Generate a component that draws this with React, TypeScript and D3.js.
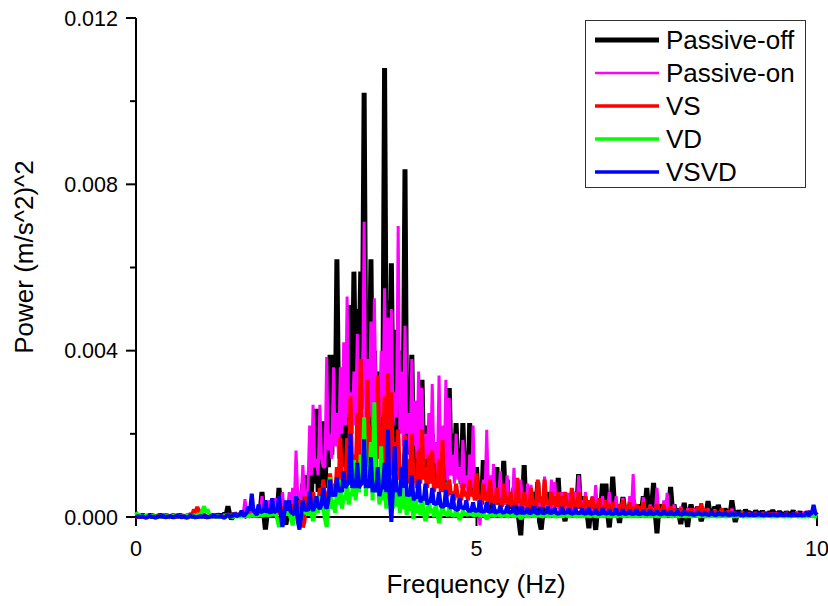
import React from 'react';
import * as d3 from 'd3';

// Spectrum samples: main arrays at every FREQ_STEP Hz (0..10 Hz), *_MID arrays at the half steps
// between them. Values are in units of 1e-4 (m/s^2)^2.
const FREQ_STEP = 0.05;
const UNIT = 1e-4;

const PASSIVE_OFF = [
  0.4, 0.3, 0.5, 0.2, 0.4, 0.3, 0.2, 0.5, 0.3, 0.4,
  0.2, 0.4, 0.3, 0.5, 0.2, 0.3, 0.4, 0.2, 0.5, 0.3,
  0.4, 0.2, 0.5, 0.3, 0.6, 0.4, 0.8, 2.6, -0.5, 0.9,
  0.6, 1.2, 0.3, 1.4, 0.8, 1.8, 1.0, 6.0, -3.0, 2.2,
  1.5, 3.2, 7.0, 2.4, -1.8, 3.0, 4.5, 5.0, 3.5, 8.0,
  10, 12, 16, 26, 10, 23, 18, 39, 39, 62,
  35, 30, 25, 51, 59, 50, 59, 102, 45, 62,
  40, 35, 30, 108, 52, 61, 45, 40, 40, 83.6,
  30, 39, 25, 20, 33, 22, 15, 20, 15, 18,
  14, 20, 31, 20, 22.6, 15, 22.6, 12, 22.6, 10,
  12, 6, 13.7, 8, 5, 7, 12, 6, 13.5, 9,
  4, 7, 3, -4.4, 12.5, 5, 3, 6, 8.4, -3,
  4, 6, 3, 5, 9.4, 4, -1, 5, 4, 6,
  10.3, 5, 3, -2.7, 4, -3.1, 3, 8, 8, -2.5,
  9.7, 3, -1.4, 4.8, 2, 3, 4, 2, 3, 5,
  7, 3, 8.2, -3.9, 3, 2.5, 4, 7.2, 3, 2,
  -1.7, 3.4, -2.4, 3, 2, 2.5, -1, 2, 3.8, 1.5,
  2.5, 2.9, 1.5, 2, 1.2, 4, -1.2, 1.5, 1.0, 1.7,
  1.2, 0.8, 1.5, 1.0, 1.4, 0.8, 1.2, 1.6, 0.9, 1.3,
  0.7, 1.2, 0.9, 1.5, 1.0, 1.2, 0.8, 1.0, 1.3, 0.8, 0.6,
];
const PASSIVE_OFF_MID = [
  0.1, 0.2, 0.0, 0.1, 0.2, 0.0, 0.1, 0.2, 0.1, 0.0,
  0.1, 0.0, 0.2, 0.1, 0.0, 0.1, 0.2, 0.0, 0.1, 0.2,
  0.0, 0.1, 0.2, 0.1, 0.2, 0.3, 0.5, 0.6, 0.2, 0.3,
  0.2, 0.4, 0.1, 0.5, 0.3, 0.6, 1.5, 1.0, 0.5, 0.8,
  0.6, 1.5, 2.0, -0.5, 0.5, 1.0, 2.0, 1.5, 2.5, 3.0,
  4, 5, 8, 6, 8, 7, 12, 15, 20, 25,
  15, 12, 20, 25, 30, 35, 40, 30, 28, 20,
  18, 15, 25, 30, 25, 20, 18, 22, 25, 15,
  18, 12, 10, 15, 12, 8, 10, 9, 8, 10,
  8, 10, 12, 10, 12, 8, 10, 7, 6, 5,
  4, 3, 5, 3, 2, 4, 3, 5, 3, 2,
  2, 1, -1, 3, 2, 1, 2, 3, -1, 1,
  2, 1.5, 2, 3, 2, 1, 2, 1.5, 2, 3,
  2, 1.5, 1, 1.5, 1, 1.5, 2, 3, 1, 2,
  3, 1, 1.5, 2, 1, 1.5, 2, 1, 1.5, 2,
  2, 3, 1, 1.5, 1, 1.5, 2, 2, 1, 0.5,
  1, 0.5, 1, 1.2, 0.8, 1, 0.5, 1, 1.2, 0.8,
  1, 1.2, 0.8, 1, 0.6, 1.2, 0.5, 0.8, 0.6, 0.9,
  0.7, 0.5, 0.8, 0.6, 0.7, 0.5, 0.8, 0.7, 0.6, 0.7,
  0.5, 0.6, 0.7, 0.6, 0.7, 0.5, 0.6, 0.7, 0.5, 0.4,
];

const PASSIVE_ON = [
  0.2, 0.3, 0.1, 0.2, 0.3, 0.2, 0.1, 0.3, 0.2, 0.2,
  0.3, 0.1, 0.2, 0.3, 0.2, 0.1, 0.2, 0.3, 0.2, 0.4,
  0.3, 0.2, 0.4, 0.3, 0.5, 0.3, 0.6, 0.8, 0.4, 1.0,
  0.5, 1.5, 4.3, 1.0, 2.0, 1.2, 3.0, 5.0, 1.5, 4.0,
  2.5, 4.5, 3.5, 6.0, 2.0, 6, 7, 16, 6, 12.5,
  5, 22, 27, 14, 27, 12, 38.5, 20, 36, 25,
  36, 42, 53, 30, 35, 44, 30, 71, 38, 47,
  52.6, 30, 40, 55, 48, 50, 30, 70, 35, 46,
  25, 38, 28, 35, 31, 20, 25, 32, 18, 34,
  22, 33, 28.6, 15, 20, 12, 18.5, 10, 15, 22,
  8, -2, 9, 21, 10, 12.7, 7, 11, 6, 10,
  5, 11.8, 6, 9, 4, 8, 7.7, 3, 6, 5,
  9.7, 4, 9, 8.4, 3, 6, 4, 5.8, 3, 6,
  10, 4, 6, 3, 5, 7.7, 3, 5, 4, 6,
  3, 5, 2, 4.6, 2, 5, 10.3, 3, 2, 4.8,
  2, 3, 2, 7, 2, 4, 5.8, 2, 3, 1.5,
  2.5, 1.5, 2, 1, 2, 1.5, 2.4, 1, 2, 1.2,
  1.8, 1, 1.5, 0.8, 1.2, 2, 1, 0.8, 1.2, 0.6,
  1.0, 0.7, 1.1, 0.6, 0.9, 1.2, 0.7, 1.0, 0.5, 0.9,
  0.7, 1.1, 0.6, 0.9, 1.3, 0.7, 1.0, 1.5, 0.8, 0.6, 0.5,
];
const PASSIVE_ON_MID = [
  0.1, 0.0, 0.1, 0.1, 0.0, 0.1, 0.0, 0.1, 0.1, 0.0,
  0.1, 0.0, 0.1, 0.0, 0.1, 0.0, 0.1, 0.1, 0.0, 0.2,
  0.1, 0.0, 0.2, 0.1, 0.2, 0.1, 0.3, 0.2, 0.1, 0.3,
  0.2, 0.8, 1.0, 0.4, 0.8, 0.6, 1.2, 1.5, 0.8, 1.5,
  1.0, 1.5, 1.2, 2.0, 1.5, 2, 3, 5, 4, 5,
  7, 10, 12, 10, 14, 12, 16, 14, 17, 14,
  20, 22, 24, 20, 22, 18, 26, 22, 24, 20,
  26, 22, 24, 26, 20, 22, 24, 20, 17, 20,
  14, 17, 14, 16, 12, 14, 12, 13, 10, 12,
  11, 9, 10, 8, 9, 7, 8, 6, 7, 5,
  4.5, 3.5, 4.5, 5.5, 4.5, 3.5, 4.5, 3.5, 3, 3.5,
  2.5, 3.5, 2.5, 2.5, 2, 2.5, 3, 2, 2.5, 2.5,
  2, 1.5, 2, 2.5, 1.5, 2, 1.5, 2, 1, 2,
  2.5, 1.5, 2, 1, 1.5, 2, 1, 2, 1.5, 1,
  1.5, 1, 1.2, 1.5, 1, 1.5, 2, 1, 1.2, 1,
  1, 1.5, 1, 1.2, 1, 1.5, 1, 0.8, 1, 0.8,
  0.8, 0.6, 1, 0.5, 0.8, 0.6, 0.8, 0.5, 0.7, 0.6,
  0.7, 0.5, 0.6, 0.4, 0.6, 0.7, 0.5, 0.4, 0.6, 0.3,
  0.5, 0.4, 0.5, 0.3, 0.5, 0.6, 0.4, 0.5, 0.3, 0.4,
  0.4, 0.5, 0.3, 0.4, 0.6, 0.4, 0.5, 0.6, 0.4, 0.3,
];

const VS = [
  0.1, 0.2, 0.1, 0.3, 0.2, 0.1, 0.2, 0.3, 0.1, 0.2,
  0.3, 0.2, 0.1, 0.2, 0.3, 0.4, 0.8, 1.8, 2.4, 1.2,
  0.4, 0.3, 0.2, 0.4, 0.3, 0.2, 0.5, 0.3, 0.6, 0.4,
  0.5, 0.8, 0.4, 1.0, 0.6, 1.2, 0.8, 1.5, 1.0, 1.6,
  1.2, 2.0, 1.5, 2.5, 1.0, 2, 3, 2, 4, -2.5,
  5, 3, 6, 4, 7, 9, 6, 10.5, 8, 12,
  19, 10, 19, 29, 15, 25, 38, 20, 33, 22,
  26, 34, 22, 29, 34.6, 30, 18, 21, 12, 19.7,
  14, 20, 10, 16, 21, 12, 15, 16, 9, 14,
  18.5, 8, 9, 6, 8, 5, 8, 6, 9, 6.5,
  10.5, 5, 8, 6, 9, 5, 7, 4, 8, 5,
  6, 3, 9.4, 4, 6, 3, 7, 4, 9, 5,
  9, 4, 6, 5, 6, 5, 6, 3, 7, 4,
  6, 3, 5, 4, 4.8, 3, 4.5, 2.5, 4, 3,
  3.5, 2, 3, 4, 2.5, 3.5, 2, 3, 2.5, 3.5,
  2, 2.5, 1.5, 3, 2, 3, 1.5, 2.5, 2, 1.5,
  2, 1.2, 1.5, 2, 1.2, 2.5, 3.3, 2, 1.5, 1,
  1.5, 1.2, 2, 1.0, 1.5, 0.8, 1.0, 0.7, 1.1, 0.8,
  1.0, 0.6, 0.9, 0.7, 1.0, 0.6, 0.8, 0.5, 0.9, 0.7,
  0.6, 0.8, 0.5, 0.7, 0.9, 0.6, 0.7, 0.5, 0.8, 0.6, 0.4,
];
const VS_MID = [
  0.0, 0.1, 0.0, 0.1, 0.1, 0.0, 0.1, 0.1, 0.0, 0.1,
  0.1, 0.0, 0.1, 0.1, 0.1, 0.2, 0.5, 1.2, 1.5, 0.6,
  0.2, 0.1, 0.1, 0.2, 0.1, 0.1, 0.2, 0.1, 0.3, 0.2,
  0.2, 0.3, 0.2, 0.4, 0.3, 0.5, 0.4, 0.6, 0.5, 0.7,
  0.6, 0.8, 0.7, 1.0, 0.5, 1, 1.5, 1, 2, -1,
  2, 2.5, 3.5, 3, 4, 5, 4, 6, 5, 7,
  9, 8, 10, 11, 10, 13, 15, 12, 13, 11,
  12, 14, 12, 13, 12, 10, 11, 9, 10, 10,
  8, 9, 7, 8, 9, 7, 8, 6, 7, 6,
  6, 5, 5.5, 4, 5, 4, 5, 4, 5, 4,
  4.5, 3.5, 4, 3, 3.5, 3, 3.5, 2.5, 3.5, 3,
  2.5, 3, 3.5, 2.5, 3, 2, 3, 2.5, 3.5, 2.5,
  3, 2.5, 3, 2.5, 2.5, 2, 3, 2, 2.5, 2,
  2.5, 2, 2.5, 2, 2, 1.5, 2, 1.5, 2, 1.5,
  1.5, 1.2, 1.5, 1.8, 1.2, 1.5, 1, 1.2, 1.5, 1.2,
  1, 1.2, 0.9, 1.2, 1, 1.2, 0.8, 1.1, 1, 0.8,
  0.9, 0.6, 0.8, 0.9, 0.6, 1.1, 1.3, 0.9, 0.7, 0.6,
  0.6, 0.5, 0.7, 0.4, 0.6, 0.4, 0.5, 0.3, 0.5, 0.4,
  0.4, 0.3, 0.4, 0.3, 0.5, 0.3, 0.4, 0.2, 0.4, 0.3,
  0.3, 0.4, 0.2, 0.3, 0.4, 0.3, 0.3, 0.2, 0.4, 0.2,
];

const VD = [
  1.2, 0.5, 0.3, 0.4, 0.2, 0.3, 0.1, 0.2, 0.3, 0.2,
  0.1, 0.3, 0.2, 0.1, 0.2, 0.3, 0.2, 0.4, 0.5, 0.8,
  2.6, 1.8, 0.4, 0.2, 0.3, 0.1, 0.2, 0.3, 0.1, 0.2,
  0.3, 0.2, 0.5, 0.3, 0.6, 0.4, 0.8, 0.5, 1.0, 0.6,
  1.2, 0.8, -2.4, 1.0, 1.5, 1, -2, 2, -1.5, 3,
  1, 4, -1, 3, 5, 2, -2.4, 9.6, 4, 6,
  9, 5, 8, 6, 13.7, 10, 15, 24, 12, 18,
  27.6, 10, 17, 8, 12, 9, 12, 6, 8, 5,
  7, 4, 6, 3, 5, -1, 4, 2, 3, -1.5,
  3, 1, 2.5, 0.5, 2, -0.7, 1.5, 1, 2, 0.5,
  1.5, 0.5, 1.2, -0.5, 1, 0.4, 1.2, 0.3, 0.8, 0.2,
  0.6, 0.3, 0.8, -0.4, 0.6, 0.2, 0.5, 0.3, 0.7, 0.2,
  0.5, 0.3, 0.6, 0.2, 0.4, 0.3, 0.6, 0.2, 0.5, 0.3,
  0.4, 0.2, 0.5, 0.3, 0.6, 0.2, 0.4, 0.3, 0.5, 0.2,
  0.4, 0.3, 0.6, 0.2, 0.5, 0.3, 0.4, 0.2, 0.5, 0.3,
  0.4, 0.2, 0.5, 0.3, 0.4, 0.2, 0.6, 0.3, 0.4, 0.2,
  0.5, 0.3, 0.4, 0.2, 0.5, 0.3, 0.4, 0.2, 0.3, 0.4,
  0.2, 0.3, 0.5, 0.2, 0.4, 0.3, 0.2, 0.4, 0.3, 0.2,
  0.3, 0.4, 0.2, 0.3, 0.2, 0.4, 0.3, 0.2, 0.3, 0.4,
  0.2, 0.3, 0.2, 0.4, 0.3, 0.2, 0.3, 0.2, 0.4, 0.3, 0.2,
];
const VD_MID = [
  0.4, 0.2, 0.1, 0.2, 0.1, 0.1, 0.0, 0.1, 0.1, 0.1,
  0.0, 0.1, 0.1, 0.0, 0.1, 0.1, 0.1, 0.2, 0.3, 1.5,
  1.2, 0.6, 0.2, 0.1, 0.1, 0.0, 0.1, 0.1, 0.0, 0.1,
  0.1, 0.1, 0.2, 0.1, 0.2, 0.2, 0.3, 0.2, 0.4, 0.3,
  0.4, -0.5, -1.0, 0.3, 0.5, -0.5, 0.5, 0.5, 1.0, 1.0,
  0.5, 1, 1, 1, 2, -0.5, 3, 2, 1, 3,
  2, 4, 3, 5, 4, 6, 8, 5, 7, 4,
  6, 3, 4, 2, 3, 2, 2.5, 1, 2, 0.5,
  1.5, -0.5, 1, 0.5, 1, 0.5, 1, 0, 1, 0.5,
  0.8, 0.2, 0.5, 0.1, 0.5, 0.2, 0.5, 0.3, 0.6, 0.2,
  0.4, 0.2, 0.3, 0.1, 0.3, 0.2, 0.4, 0.1, 0.3, 0.1,
  0.2, 0.1, 0.3, 0.1, 0.2, 0.1, 0.2, 0.1, 0.3, 0.1,
  0.2, 0.1, 0.2, 0.1, 0.2, 0.1, 0.3, 0.1, 0.2, 0.1,
  0.2, 0.1, 0.2, 0.1, 0.3, 0.1, 0.2, 0.1, 0.2, 0.1,
  0.2, 0.1, 0.3, 0.1, 0.2, 0.1, 0.2, 0.1, 0.2, 0.1,
  0.2, 0.1, 0.2, 0.1, 0.2, 0.1, 0.3, 0.1, 0.2, 0.1,
  0.2, 0.1, 0.2, 0.1, 0.2, 0.1, 0.2, 0.1, 0.1, 0.2,
  0.1, 0.1, 0.2, 0.1, 0.2, 0.1, 0.1, 0.2, 0.1, 0.1,
  0.1, 0.2, 0.1, 0.1, 0.1, 0.2, 0.1, 0.1, 0.1, 0.2,
  0.1, 0.1, 0.1, 0.2, 0.1, 0.1, 0.1, 0.1, 0.2, 0.1,
];

const VSVD = [
  0.3, 0.1, 0.2, -0.2, 0.3, 0.1, -0.1, 0.2, 0.3, 0.0,
  0.2, -0.1, 0.3, 0.1, 0.2, -0.2, 0.3, 0.1, 0.0, 0.2,
  0.3, -0.1, 0.2, 0.4, 0.1, 0.3, -0.2, 0.5, 0.2, 0.8,
  0.4, 1.5, 0.5, 2.5, 5.6, 1.0, 3.0, 1.5, 4.0, 2.0,
  4.5, 1.5, 5.0, -2.4, 4.0, 4, 1, 5, -3, 4,
  2, 6, 1.5, 5, 2, 7, 2, 9, 6, 9.5,
  7, 11, 8, 20, 9, 13, 8, 18.7, 9, 14.4,
  8, 12, 7, 13, 21, -1.2, 17, 7, 12, 18.5,
  6, 10, 5, 9, 5, 8, 4, 7, 3.5, 6,
  2.5, 6.5, 3, 5.5, 2, 4.5, 2.5, 4, 1.5, 3.5,
  2, 4, 1.5, 3.5, 1.5, 3, 1.5, 2.8, 1.2, 2.6,
  1.5, 2.8, 1, 2.5, 1.2, 2.2, 1.2, 2.6, 1, 2.2,
  1.2, 2.5, 1.2, 2.2, 1, 2.4, 1.2, 2, 1, 2.3,
  1.1, 2, 1, 2.2, 1, 1.9, 0.9, 2.1, 1, 1.8,
  0.9, 2, 0.8, 1.8, 1, 1.7, 0.9, 1.9, 0.9, 1.6,
  0.8, 1.7, 0.9, 1.5, 0.8, 1.6, 0.9, 1.4, 0.8, 1.5,
  0.7, 1.4, 0.9, 1.2, 0.7, 1.3, 0.8, 1.1, 0.7, 1.3,
  0.6, 1.1, 0.8, 1.0, 0.6, 1.2, 0.7, 1.0, 0.5, 1.1,
  0.6, 0.9, 0.7, 1.0, 0.5, 0.9, 0.6, 0.8, 0.5, 0.9,
  0.6, 0.8, 0.5, 0.9, 0.6, 0.8, 0.5, 1.2, 0.7, 2.9, 0.5,
];
const VSVD_MID = [
  0.1, 0.0, -0.1, 0.1, 0.0, -0.1, 0.1, 0.1, -0.1, 0.1,
  0.0, 0.1, 0.1, -0.1, 0.0, 0.1, 0.1, -0.1, 0.1, 0.0,
  0.1, 0.0, 0.2, 0.1, 0.1, -0.1, 0.2, 0.1, 0.3, 0.2,
  0.5, 0.3, 1.0, 1.5, 1.5, 0.5, 1.0, 1.2, 1.0, 0.8,
  1.0, 1.5, 0.5, 0.5, 1.5, 1.0, 0.5, -1.0, 0.5, 1.5,
  1.5, 2.5, 2.5, 2.5, 3, 3, 4, 5, 5, 6,
  6, 7, 8, 7, 7, 7, 8, 7, 7, 6,
  6, 5, 7, 6, 5, 7, 6, 5, 7, 5,
  5, 4, 4.5, 3.5, 4, 3, 3.5, 3, 3, 2.5,
  2.5, 2.5, 2, 2, 1.5, 2, 1.8, 1.5, 1.5, 1.2,
  1.3, 1.1, 1.3, 1.1, 1.1, 0.9, 1.1, 1.0, 1.1, 0.9,
  1.0, 0.8, 1.0, 0.8, 0.9, 0.7, 1.0, 0.8, 0.9, 0.7,
  0.9, 0.8, 0.9, 0.7, 0.8, 0.7, 0.9, 0.8, 0.7, 0.8,
  0.8, 0.7, 0.8, 0.6, 0.8, 0.7, 0.6, 0.8, 0.7, 0.6,
  0.7, 0.6, 0.8, 0.6, 0.7, 0.6, 0.7, 0.5, 0.7, 0.6,
  0.6, 0.5, 0.7, 0.6, 0.5, 0.6, 0.5, 0.6, 0.5, 0.6,
  0.5, 0.6, 0.5, 0.4, 0.5, 0.6, 0.4, 0.5, 0.4, 0.5,
  0.4, 0.5, 0.4, 0.5, 0.4, 0.4, 0.5, 0.4, 0.3, 0.4,
  0.4, 0.3, 0.4, 0.4, 0.3, 0.4, 0.3, 0.4, 0.3, 0.4,
  0.3, 0.4, 0.3, 0.4, 0.3, 0.3, 0.4, 0.3, 1.0, 1.0,
];

const SERIES_NAMES = ['Passive-off', 'Passive-on', 'VS', 'VD', 'VSVD'];
const SERIES_MAIN = [PASSIVE_OFF, PASSIVE_ON, VS, VD, VSVD];
const SERIES_MID = [PASSIVE_OFF_MID, PASSIVE_ON_MID, VS_MID, VD_MID, VSVD_MID];
const SERIES_COLORS = ['#000000', '#ff00ff', '#ff0000', '#00ff00', '#0000ff'];
const LINE_WIDTHS = [5, 3, 4, 4, 4];
const LEGEND_WIDTHS = [5, 2.5, 3.5, 3.5, 3.5];

const Y_TICKS = [0, 0.004, 0.008, 0.012];
const Y_MINOR_TICKS = [0.002, 0.006, 0.01];
const X_TICKS = [0, 5, 10];
const X_TITLE = 'Frequency (Hz)';
const Y_TITLE = 'Power (m/s^2)^2';

const FONT = "'Liberation Sans', Arial, Helvetica, sans-serif";

// Merge the full-step samples and the half-step samples into one ordered list.
function mergeSamples(main: number[], mid: number[]): number[] {
  const out: number[] = [];
  main.forEach((v, i) => {
    out.push(v);
    if (i < mid.length && i < main.length - 1) out.push(mid[i]);
  });
  return out;
}

export default function App() {
  const W = 828;
  const H = 606;
  const x = d3.scaleLinear().domain([0, 10]).range([136, 817]);
  const y = d3.scaleLinear().domain([0, 0.012]).range([517, 18]);
  const fmt = d3.format('.3f');
  const line = d3
    .line<number>()
    .x((_, j) => x((j * FREQ_STEP) / 2))
    .y((d) => y(d * UNIT));

  const legendX = 585.5;
  const legendY = 20.5;
  const rowH = 33;

  return (
    <svg
      width={W}
      height={H}
      viewBox={`0 0 ${W} ${H}`}
      style={{ position: 'absolute', left: 0, top: 0, background: '#ffffff' }}
      fontFamily={FONT}
    >
      <rect x={0} y={0} width={W} height={H} fill="#ffffff" />
      {/* axes */}
      <line x1={x(0)} x2={x(10)} y1={y(0)} y2={y(0)} stroke="#000" strokeWidth={2} />
      <line x1={x(0)} x2={x(0)} y1={y(0.012)} y2={y(0)} stroke="#000" strokeWidth={2} />
      {Y_TICKS.map((t) => (
        <g key={'yt' + t}>
          <line x1={x(0) - 10} x2={x(0)} y1={y(t)} y2={y(t)} stroke="#000" strokeWidth={2} />
          <text x={118} y={y(t) + 7.6} textAnchor="end" fontSize={21.5} fill="#000">
            {fmt(t)}
          </text>
        </g>
      ))}
      {Y_MINOR_TICKS.map((t) => (
        <line key={'ym' + t} x1={x(0) - 6} x2={x(0)} y1={y(t)} y2={y(t)} stroke="#000" strokeWidth={2} />
      ))}
      {X_TICKS.map((t) => (
        <g key={'xt' + t}>
          <line x1={x(t)} x2={x(t)} y1={y(0)} y2={y(0) + 9} stroke="#000" strokeWidth={2} />
          <text x={x(t)} y={556} textAnchor="middle" fontSize={21.5} fill="#000">
            {t}
          </text>
        </g>
      ))}
      <text x={476} y={593} textAnchor="middle" fontSize={26} fill="#000">
        {X_TITLE}
      </text>
      <text transform="translate(33,257) rotate(-90)" textAnchor="middle" fontSize={26} fill="#000">
        {Y_TITLE}
      </text>

      {/* data */}
      {SERIES_MAIN.map((s, k) => (
        <path
          key={SERIES_NAMES[k]}
          d={line(mergeSamples(s, SERIES_MID[k])) || ''}
          fill="none"
          stroke={SERIES_COLORS[k]}
          strokeWidth={LINE_WIDTHS[k]}
          strokeLinejoin="bevel"
        />
      ))}

      {/* legend */}
      <rect x={legendX} y={legendY} width={220} height={167} fill="#ffffff" stroke="#333" strokeWidth={1} />
      {SERIES_NAMES.map((name, k) => {
        const cy = 40 + k * rowH;
        return (
          <g key={'lg' + name}>
            <line x1={595} x2={659} y1={cy} y2={cy} stroke={SERIES_COLORS[k]} strokeWidth={LEGEND_WIDTHS[k]} />
            <text x={666} y={cy + 8.8} fontSize={26} fill="#000">
              {name}
            </text>
          </g>
        );
      })}
    </svg>
  );
}
